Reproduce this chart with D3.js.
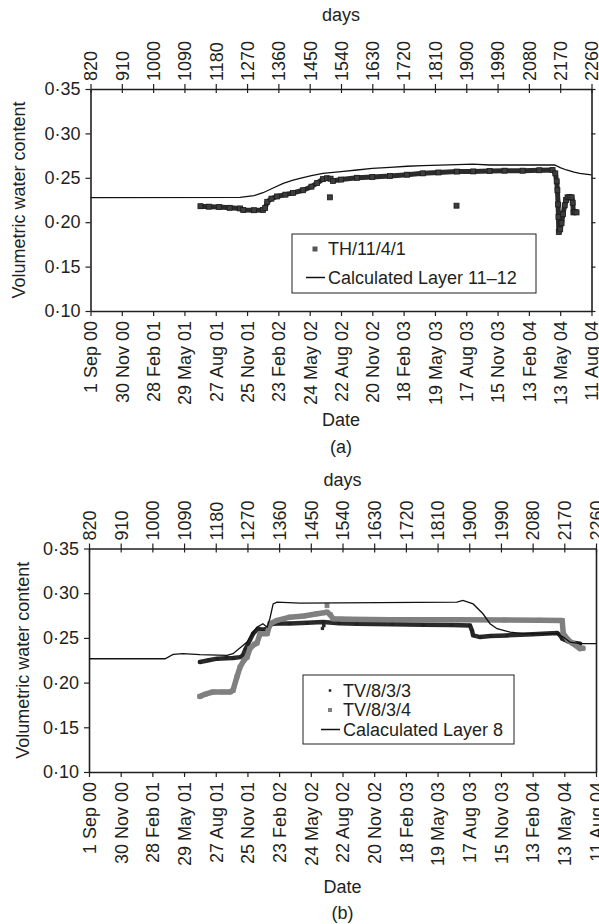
<!DOCTYPE html>
<html lang="en">
<head>
<meta charset="utf-8">
<title>Volumetric water content</title>
<script src="https://d3js.org/d3.v7.min.js"></script>
<style>
  body { margin: 0; background: #fff; }
  svg { display: block; font-family: Arial, "Liberation Sans", sans-serif; }
  text { fill: #231f20; }
</style>
</head>
<body>
<script>
// shared axes (days since start, matching date labels every 90 days)
const dayTicks = [820, 910, 1000, 1090, 1180, 1270, 1360, 1450, 1540, 1630, 1720, 1810, 1900, 1990, 2080, 2170, 2260];
const dateLabels = ["1 Sep 00", "30 Nov 00", "28 Feb 01", "29 May 01", "27 Aug 01", "25 Nov 01", "23 Feb 02", "24 May 02",
  "22 Aug 02", "20 Nov 02", "18 Feb 03", "19 May 03", "17 Aug 03", "15 Nov 03", "13 Feb 04", "13 May 04", "11 Aug 04"];
const vwcTicks = [0.10, 0.15, 0.20, 0.25, 0.30, 0.35];

// panel (a)
const thDays = [1136, 1160, 1190, 1220, 1250, 1259, 1290, 1316, 1322, 1328, 1340, 1356, 1380, 1402, 1431, 1455, 1471, 1488,
  1500, 1510, 1517, 1540, 1586, 1630, 1681, 1730, 1775, 1820, 1873, 1920, 1967, 2010, 2062, 2110, 2148, 2156, 2160, 2162,
  2164, 2165, 2166, 2170, 2174, 2178, 2183, 2187, 2191, 2197, 2203, 2206, 2208, 2212, 2217];
const thVals = [0.218, 0.2175, 0.217, 0.2162, 0.2155, 0.2137, 0.2135, 0.2138, 0.216, 0.223, 0.2265, 0.229, 0.231, 0.233,
  0.236, 0.240, 0.244, 0.2485, 0.2495, 0.249, 0.2465, 0.248, 0.250, 0.251, 0.252, 0.2535, 0.255, 0.256, 0.257, 0.2572,
  0.2577, 0.258, 0.258, 0.2585, 0.2588, 0.255, 0.246, 0.236, 0.220, 0.206, 0.189, 0.192, 0.199, 0.209, 0.219, 0.225,
  0.228, 0.2285, 0.228, 0.222, 0.211, 0.2115, 0.211];
const thOutDays = [1508, 1872];
const thOutVals = [0.228, 0.2186];
const calcADays = [820, 1250, 1290, 1316, 1345, 1374, 1400, 1422, 1455, 1488, 1540, 1586, 1630, 1681, 1730, 1775, 1873,
  1919, 1967, 2154, 2170, 2188, 2210, 2226, 2260];
const calcAVals = [0.2276, 0.228, 0.230, 0.2332, 0.2385, 0.2438, 0.247, 0.2494, 0.2525, 0.255, 0.257, 0.2588, 0.2605,
  0.2618, 0.263, 0.2637, 0.2648, 0.2655, 0.2644, 0.2644, 0.2615, 0.2588, 0.2565, 0.255, 0.2532];

// panel (b)
const tv3Days = [1135, 1160, 1184, 1210, 1229, 1250, 1257, 1264, 1272, 1286, 1300, 1314, 1326, 1340, 1363, 1391, 1440,
  1485, 1530, 1581, 1680, 1769, 1850, 1902, 1908, 1911, 1931, 1960, 2007, 2080, 2150, 2158, 2164, 2186, 2215];
const tv3Vals = [0.223, 0.225, 0.2268, 0.2272, 0.2275, 0.2285, 0.2304, 0.237, 0.2435, 0.2547, 0.2603, 0.2592, 0.2603,
  0.2659, 0.2662, 0.2662, 0.267, 0.2677, 0.2665, 0.2659, 0.2652, 0.2647, 0.2643, 0.264, 0.258, 0.2528, 0.2509, 0.252,
  0.2528, 0.254, 0.2554, 0.253, 0.2491, 0.2453, 0.2435];
const tv3OutDays = [1483, 1487];
const tv3OutVals = [0.2606, 0.2637];
const tv4Days = [1135, 1150, 1172, 1200, 1221, 1229, 1240, 1249, 1260, 1269, 1277, 1290, 1297, 1306, 1326, 1334, 1354,
  1391, 1430, 1468, 1485, 1496, 1505, 1513, 1560, 1675, 1865, 2000, 2100, 2164, 2167, 2180, 2195, 2215, 2223];
const tv4Vals = [0.1846, 0.187, 0.1895, 0.1895, 0.1895, 0.1913, 0.2062, 0.2174, 0.225, 0.2285, 0.238, 0.243, 0.2442,
  0.2547, 0.2547, 0.2659, 0.2696, 0.2732, 0.2745, 0.277, 0.278, 0.2788, 0.276, 0.2714, 0.2708, 0.2703, 0.2703, 0.270,
  0.2698, 0.2696, 0.255, 0.248, 0.2435, 0.238, 0.2385];
const tv4OutDays = [1496];
const tv4OutVals = [0.286];
const calcBDays = [820, 1036, 1059, 1087, 1135, 1212, 1229, 1269, 1297, 1314, 1326, 1334, 1343, 1354, 1419, 1865, 1882,
  1911, 1939, 1959, 1979, 2016, 2053, 2150, 2167, 2186, 2215, 2260];
const calcBVals = [0.2267, 0.2267, 0.2316, 0.2323, 0.2312, 0.2304, 0.2323, 0.2453, 0.262, 0.2659, 0.262, 0.272, 0.288,
  0.290, 0.289, 0.290, 0.2919, 0.288, 0.277, 0.2659, 0.2603, 0.2565, 0.2547, 0.2547, 0.2509, 0.2453, 0.2435, 0.2435];

const zip = (xs, ys) => xs.map((d, i) => ({ d: d, v: ys[i] }));
const ink = "#231f20";

const svg = d3.select("body").append("svg")
  .attr("width", 599)
  .attr("height", 924);

function drawPanel(p) {
  const x = d3.scaleLinear().domain([820, 2260]).range([p.left, p.right]);
  const y = d3.scaleLinear().domain([0.10, 0.35]).range([p.bottom, p.top]);
  const g = svg.append("g");

  // top axis: days
  const top = g.append("g").attr("transform", `translate(0,${p.top})`)
    .call(d3.axisTop(x).tickValues(dayTicks).tickSize(5).tickSizeOuter(0).tickFormat(d3.format("d")));
  top.selectAll(".tick line").attr("y1", 4);
  top.selectAll(".tick text").attr("transform", "rotate(-90)").attr("text-anchor", "start")
    .attr("x", 8).attr("y", 0).attr("dy", "0.35em");

  // bottom axis: dates
  const bot = g.append("g").attr("transform", `translate(0,${p.bottom})`)
    .call(d3.axisBottom(x).tickValues(dayTicks).tickSize(5).tickSizeOuter(0).tickFormat((d, i) => dateLabels[i]));
  bot.selectAll(".tick text").attr("transform", "rotate(-90)").attr("text-anchor", "end")
    .attr("x", -10).attr("y", 0).attr("dy", "0.35em");

  // left axis
  g.append("g").attr("transform", `translate(${p.left},0)`)
    .call(d3.axisLeft(y).tickValues(vwcTicks).tickSize(5).tickPadding(5).tickSizeOuter(0)
      .tickFormat(d => d3.format(".2f")(d).replace(".", "\u00b7")));

  // right axis
  g.append("g").attr("transform", `translate(${p.right},0)`)
    .call(d3.axisRight(y).tickValues(vwcTicks).tickSize(p.rightTicks ? 4 : 0).tickSizeOuter(0).tickFormat(""));

  g.selectAll(".domain").attr("stroke", ink).attr("stroke-width", 1.6);
  g.selectAll(".tick line").attr("stroke", ink).attr("stroke-width", 1.2);
  g.selectAll(".tick text").attr("font-size", 18).attr("fill", ink);

  // titles
  g.append("text").attr("x", (p.left + p.right) / 2).attr("y", p.daysY).attr("text-anchor", "middle")
    .attr("font-size", 18).text("days");
  g.append("text").attr("x", (p.left + p.right) / 2).attr("y", p.dateY).attr("text-anchor", "middle")
    .attr("font-size", 18).text("Date");
  g.append("text").attr("x", (p.left + p.right) / 2).attr("y", p.tagY).attr("text-anchor", "middle")
    .attr("font-size", 18).text(p.tag);
  g.append("text").attr("transform", `translate(${p.yTitleX},${(p.top + p.bottom) / 2}) rotate(-90)`)
    .attr("text-anchor", "middle").attr("dy", "0.35em").attr("font-size", 18).text("Volumetric water content");

  const line = d3.line().x(d => x(d.d)).y(d => y(d.v));

  p.series.forEach(s => {
    const pts = zip(s.days, s.vals);
    if (s.trail) {
      g.append("path").datum(pts).attr("d", line).attr("fill", "none")
        .attr("stroke", s.trail).attr("stroke-width", s.width).attr("stroke-linejoin", "round")
        .attr("stroke-linecap", "round");
    }
    if (s.marker) {
      const all = pts.concat(zip(s.outDays || [], s.outVals || []));
      g.selectAll(null).data(all).enter().append("rect")
        .attr("x", d => x(d.d) - s.marker / 2).attr("y", d => y(d.v) - s.marker / 2)
        .attr("width", s.marker).attr("height", s.marker)
        .attr("fill", s.fill).attr("stroke", s.stroke).attr("stroke-width", 0.8);
    }
    if (s.calc) {
      g.append("path").datum(pts).attr("d", line).attr("fill", "none")
        .attr("stroke", "#111").attr("stroke-width", 1.3);
    }
  });

  // legend
  const L = p.legend;
  g.append("rect").attr("x", L.x).attr("y", L.y).attr("width", L.w).attr("height", L.h)
    .attr("fill", "#fff").attr("stroke", ink).attr("stroke-width", 1);
  L.items.forEach((it, i) => {
    const cy = L.y + L.first + i * L.step;
    if (it.type === "line") {
      g.append("line").attr("x1", L.symX - 9).attr("x2", L.symX + 10).attr("y1", cy).attr("y2", cy)
        .attr("stroke", "#111").attr("stroke-width", 1.5);
    } else {
      g.append("rect").attr("x", L.symX - it.size / 2).attr("y", cy - it.size / 2)
        .attr("width", it.size).attr("height", it.size).attr("fill", it.fill);
    }
    g.append("text").attr("x", L.textX).attr("y", cy).attr("dy", "0.35em")
      .attr("font-size", 18).text(it.label);
  });
}

drawPanel({
  left: 90.5, right: 591.5, top: 89, bottom: 311,
  daysY: 21, dateY: 426, tagY: 453, tag: "(a)", yTitleX: 19, rightTicks: true,
  series: [
    { days: thDays, vals: thVals, outDays: thOutDays, outVals: thOutVals, trail: "#2b2b2b", width: 5,
      marker: 5, fill: "#3d3d3d", stroke: "#1c1c1c" },
    { days: calcADays, vals: calcAVals, calc: true }
  ],
  legend: { x: 292, y: 234, w: 244, h: 59, first: 15, step: 28.5, symX: 315, textX: 328,
    items: [
      { type: "square", size: 5, fill: "#555", label: "TH/11/4/1" },
      { type: "line", label: "Calculated Layer 11\u201312" }
    ] }
});

drawPanel({
  left: 89, right: 596, top: 548.5, bottom: 772,
  daysY: 486, dateY: 893, tagY: 919, tag: "(b)", yTitleX: 23, rightTicks: false,
  series: [
    { days: tv3Days, vals: tv3Vals, outDays: tv3OutDays, outVals: tv3OutVals, trail: "#2a2a2a", width: 4.5,
      marker: 2.5, fill: "#222", stroke: "#222" },
    { days: tv4Days, vals: tv4Vals, outDays: tv4OutDays, outVals: tv4OutVals, trail: "#808080", width: 5.5,
      marker: 4, fill: "#808080", stroke: "#808080" },
    { days: calcBDays, vals: calcBVals, calc: true }
  ],
  legend: { x: 303, y: 675, w: 211, h: 69, first: 15.5, step: 19.5, symX: 330, textX: 343,
    items: [
      { type: "square", size: 2.5, fill: "#222", label: "TV/8/3/3" },
      { type: "square", size: 4, fill: "#808080", label: "TV/8/3/4" },
      { type: "line", label: "Calaculated Layer 8" }
    ] }
});
</script>
</body>
</html>
